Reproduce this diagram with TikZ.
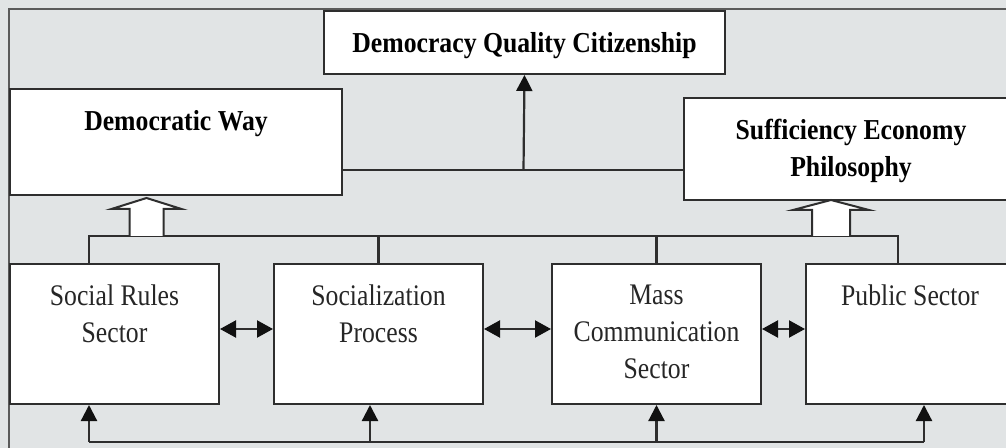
\documentclass[tikz,border=0pt]{standalone}
\usepackage{fontspec}
\setmainfont{Liberation Serif}
\newfontfamily\headFont[FakeStretch=0.89]{Liberation Serif}
\newfontfamily\sectorFont[FakeStretch=0.86]{Liberation Serif}
\usetikzlibrary{arrows.meta}
\definecolor{bgColor}{HTML}{E1E4E5}
\definecolor{frameColor}{HTML}{5A5A5A}
\definecolor{lineColor}{HTML}{2E2E2E}
\definecolor{tipColor}{HTML}{111111}
\definecolor{boxColor}{HTML}{FFFFFF}
\def\textCit{Democracy Quality Citizenship}
\def\textWay{Democratic Way}
\def\textSep{Sufficiency Economy\\Philosophy}
\def\textSocial{Social Rules\\Sector}
\def\textSocz{Socialization\\Process}
\def\textMass{Mass\\Communication\\Sector}
\def\textPublic{Public Sector}
\tikzset{
  box/.style 2 args={draw=lineColor, line width=2bp, fill=boxColor, anchor=north west,
    inner sep=0pt, minimum width=#1bp, minimum height=#2bp},
  headText/.style={anchor=north, yshift=-22bp, inner sep=0pt, align=center, text=black,
    font=\headFont\bfseries\fontsize{29}{37}\selectfont},
  sectorText/.style={anchor=north, yshift=-22bp, inner sep=0pt, align=center, text=black!85,
    font=\sectorFont\fontsize{30}{37}\selectfont},
  link/.style={draw=lineColor, line width=2.2bp},
  oneWay/.style={link, -{Triangle[length=16bp,width=16bp,color=tipColor]}},
  twoWay/.style={link, {Triangle[length=16bp,width=17bp,color=tipColor]}-{Triangle[length=16bp,width=17bp,color=tipColor]}},
  hollowArrow/.style={draw=lineColor, line width=2bp, fill=boxColor, line join=miter}
}

\begin{document}
\begin{tikzpicture}[x=1bp,y=-1bp]

% canvas
\useasboundingbox (0,0) rectangle (1006,448);
\clip (0,0) rectangle (1006,448);
\fill[bgColor] (0,0) rectangle (1006,448);
\draw[frameColor, line width=1.5bp] (9,9) rectangle (1030,470);

% link layer
\coordinate (join) at (523.5,170);
\coordinate (busL) at (89,236);
\coordinate (busR) at (898,236);
\coordinate (fbL) at (89,442);
\coordinate (fbB) at (370,442);
\coordinate (fbR) at (924,442);
\coordinate (wayIn) at (146.5,236);
\coordinate (sepIn) at (831,236);

% box layer
\node[box={401}{63}, label={[headText]north:\textCit}] (cit) at (323,10) {};
\node[box={332}{106}, label={[headText]north:\textWay}] (way) at (9,88) {};
\node[box={334}{102}, label={[headText]north:\textSep}] (sep) at (683,97) {};
\node[box={209}{140}, label={[sectorText]north:\textSocial}] (social) at (9,263) {};
\node[box={209}{140}, label={[sectorText]north:\textSocz}] (socz) at (273,263) {};
\node[box={209}{140}, label={[sectorText]north:\textMass}] (mass) at (551,263) {};
\node[box={208}{140}, label={[sectorText]north:\textPublic}] (public) at (805,263) {};

% top links
\draw[link] (way.east |- join) -- (sep.west |- join);
\draw[oneWay] (join) -- (cit.south);

% bus to the two ways
\draw[link] (social.north -| busL) -- (busL) -- (busR) -- (public.north -| busR);
\draw[link] (socz.north) -- (socz.north |- busL);
\draw[link] (mass.north) -- (mass.north |- busL);
\draw[hollowArrow] (wayIn) ++(-17,0) -- ++(0,-27) -- ++(-18,0) -- ++(35,-11)
  -- ++(35,11) -- ++(-18,0) -- ++(0,27);
\draw[hollowArrow] (sepIn) ++(-19,0) -- ++(0,-26) -- ++(-19,0) -- ++(38,-10)
  -- ++(38,10) -- ++(-19,0) -- ++(0,26);

% sector links
\draw[twoWay] ([yshift=5bp]social.east) -- ([yshift=5bp]socz.west);
\draw[twoWay] ([yshift=5bp]socz.east) -- ([yshift=5bp]mass.west);
\draw[twoWay] ([yshift=5bp]mass.east) -- ([yshift=5bp]public.west);

% feedback links
\draw[link] (fbL) -- (fbR);
\draw[oneWay] (fbL) -- (fbL |- social.south);
\draw[oneWay] (fbB) -- (fbB |- socz.south);
\draw[oneWay] (mass.south |- fbL) -- (mass.south);
\draw[oneWay] (fbR) -- (fbR |- public.south);

\end{tikzpicture}
\end{document}
